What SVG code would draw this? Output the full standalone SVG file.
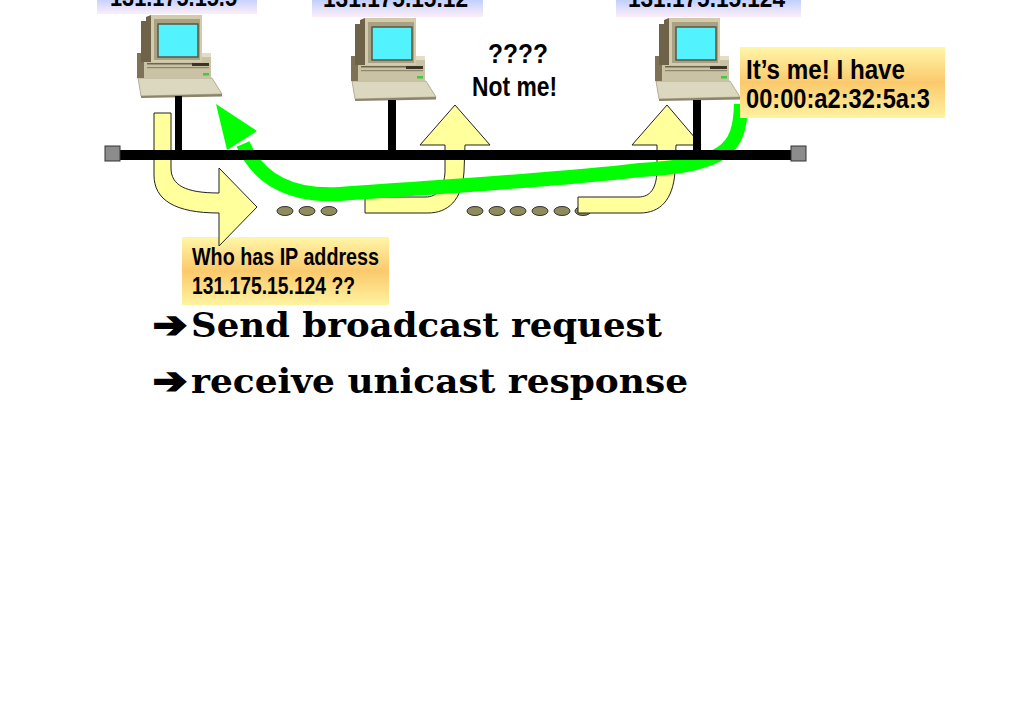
<svg xmlns="http://www.w3.org/2000/svg" xmlns:xlink="http://www.w3.org/1999/xlink" width="1024" height="724" viewBox="0 0 1024 724">
<style>
.lbl{font-family:"Liberation Sans Narrow","Liberation Sans",Arial,sans-serif;font-weight:bold;fill:#000}
.big{font-family:"DejaVu Serif","Liberation Serif",serif;font-weight:bold;font-size:34px;fill:#000}
.arw{font-family:"DejaVu Sans",sans-serif;font-weight:bold;font-size:36px;fill:#000;stroke:#000;stroke-width:2.2;stroke-linejoin:miter}
.yarrow{fill:#ffff9c;stroke:#222;stroke-width:1}
.dot{fill:#8f8b5c;stroke:#333;stroke-width:1}
.drop{fill:#000}
</style>
<defs>
<linearGradient id="gTop" x1="0" y1="0" x2="0" y2="1">
<stop offset="0" stop-color="#9fb4ff"/>
<stop offset="0.55" stop-color="#c2d0ff"/>
<stop offset="1" stop-color="#fdeef8"/>
</linearGradient>
<linearGradient id="gCall" x1="0" y1="0" x2="0" y2="1">
<stop offset="0" stop-color="#fff6a8"/>
<stop offset="0.5" stop-color="#fbc96c"/>
<stop offset="1" stop-color="#fff3a0"/>
</linearGradient>
<g id="pc">
<polygon points="1,63 75,63 85,79 4,81" fill="#dcd7bf" stroke="#a59f84" stroke-width="0.8"/>
<polygon points="4,81 85,79 85,81.5 4,83" fill="#8c8468"/>
<rect x="0" y="38" width="74" height="25" fill="#c9c2a4"/>
<rect x="0" y="38" width="7" height="25" fill="#7d7258"/>
<rect x="7" y="38" width="67" height="4" fill="#e3ddc6"/>
<rect x="10" y="48" width="45" height="1.5" fill="#6d6650"/>
<rect x="10" y="52" width="62" height="1.2" fill="#8d8668"/>
<rect x="55" y="48" width="17" height="3" fill="#3a3528"/>
<rect x="66" y="58" width="6" height="2.5" fill="#3ccc3c"/>
<polygon points="4,6 9,6 9,2 14,0 14,47 4,47" fill="#6e6348"/>
<rect x="14" y="0" width="51" height="47" fill="#d3cbab"/>
<rect x="17" y="4" width="46" height="41" fill="#a9a184"/>
<rect x="21" y="9" width="40" height="33" fill="#52f2ff" stroke="#5c5540" stroke-width="1.5"/>
</g>
</defs>
<rect width="1024" height="724" fill="#fff"/>

<g id="label-host1">
<rect x="97" y="-20" width="160" height="34" fill="url(#gTop)"/>
<text class="lbl" x="110" y="6" font-size="26" textLength="127" lengthAdjust="spacingAndGlyphs">131.175.15.5</text>
</g>
<g id="label-host2">
<rect x="312" y="-20" width="171" height="37" fill="url(#gTop)"/>
<text class="lbl" x="323" y="6.5" font-size="26" textLength="145" lengthAdjust="spacingAndGlyphs">131.175.15.12</text>
</g>
<g id="label-host3">
<rect x="616" y="-20" width="185" height="37" fill="url(#gTop)"/>
<text class="lbl" x="628" y="6.5" font-size="26" textLength="157" lengthAdjust="spacingAndGlyphs">131.175.15.124</text>
</g>

<g id="host1"><use xlink:href="#pc" href="#pc" x="137" y="15"/></g>
<g id="host2"><use xlink:href="#pc" href="#pc" x="351" y="18"/></g>
<g id="host3"><use xlink:href="#pc" href="#pc" x="655" y="18"/></g>

<g id="note-notme">
<text class="lbl" x="488" y="63" font-size="28" textLength="60" lengthAdjust="spacingAndGlyphs">????</text>
<text class="lbl" x="472" y="96" font-size="28" textLength="85" lengthAdjust="spacingAndGlyphs">Not me!</text>
</g>

<g id="callout-request">
<rect x="182" y="237" width="207" height="68" fill="url(#gCall)"/>
<text class="lbl" x="192" y="265" font-size="23" textLength="187" lengthAdjust="spacingAndGlyphs">Who has IP address</text>
<text class="lbl" x="192" y="294" font-size="23" textLength="163" lengthAdjust="spacingAndGlyphs">131.175.15.124 ??</text>
</g>

<g id="connectors">
<g id="dots">
<ellipse class="dot" cx="285" cy="211" rx="8" ry="4.5"/>
<ellipse class="dot" cx="307" cy="211" rx="8" ry="4.5"/>
<ellipse class="dot" cx="329" cy="211" rx="8" ry="4.5"/>
<ellipse class="dot" cx="475" cy="211" rx="8" ry="4.5"/>
<ellipse class="dot" cx="497" cy="211" rx="8" ry="4.5"/>
<ellipse class="dot" cx="518" cy="211" rx="8" ry="4.5"/>
<ellipse class="dot" cx="540" cy="211" rx="8" ry="4.5"/>
<ellipse class="dot" cx="562" cy="211" rx="8" ry="4.5"/>
<ellipse class="dot" cx="583" cy="211" rx="8" ry="4.5"/>
</g>
<path class="yarrow" d="M154 113 L171 113 L171 168 C171 185 185 193 219 193 L219 168 L257 207 L219 246 L219 213 C175 213 154 200 154 175 Z"/>
<path class="yarrow" d="M365 197 L425 197 C438 197 444 188 445 172 L445 145 L420 145 L455 105 L490 145 L465 145 L464 172 C462 200 448 213 428 213 L365 213 Z"/>
<path class="yarrow" d="M578 197 L638 197 C651 197 656 188 657 172 L657 145 L632 145 L667 105 L701 145 L676 145 L675 172 C673 200 660 213 640 213 L578 213 Z"/>
<g id="reply">
<path d="M741 104 C740 150 725 165 640 170 C560 180 420 188 340 194 C290 197 258 178 243 144" fill="none" stroke="#00ff00" stroke-width="14"/>
<polygon points="216,104 227,150 257,131" fill="#00ff00"/>
</g>
</g>

<g id="bus">
<rect x="113" y="150" width="685" height="10" fill="#000"/>
<rect x="105" y="146" width="15" height="15" fill="#8c8c8c" stroke="#333" stroke-width="1"/>
<rect x="791" y="146" width="15" height="15" fill="#8c8c8c" stroke="#333" stroke-width="1"/>
<rect class="drop" x="175" y="96" width="7" height="56"/>
<rect class="drop" x="388" y="100" width="8" height="52"/>
<rect class="drop" x="693" y="100" width="8" height="52"/>
</g>

<g id="callout-reply">
<rect x="740" y="47" width="205" height="71" fill="url(#gCall)"/>
<text class="lbl" x="746" y="79" font-size="28" textLength="159" lengthAdjust="spacingAndGlyphs">It’s me! I have</text>
<text class="lbl" x="746" y="108" font-size="28" textLength="184" lengthAdjust="spacingAndGlyphs">00:00:a2:32:5a:3</text>
</g>

<g id="summary">
<text x="153" y="337"><tspan class="arw" textLength="34" lengthAdjust="spacingAndGlyphs">➔</tspan><tspan class="big" x="191" textLength="471" lengthAdjust="spacingAndGlyphs">Send broadcast request</tspan></text>
<text x="153" y="393"><tspan class="arw" textLength="34" lengthAdjust="spacingAndGlyphs">➔</tspan><tspan class="big" x="191" textLength="497" lengthAdjust="spacingAndGlyphs">receive unicast response</tspan></text>
</g>
</svg>
